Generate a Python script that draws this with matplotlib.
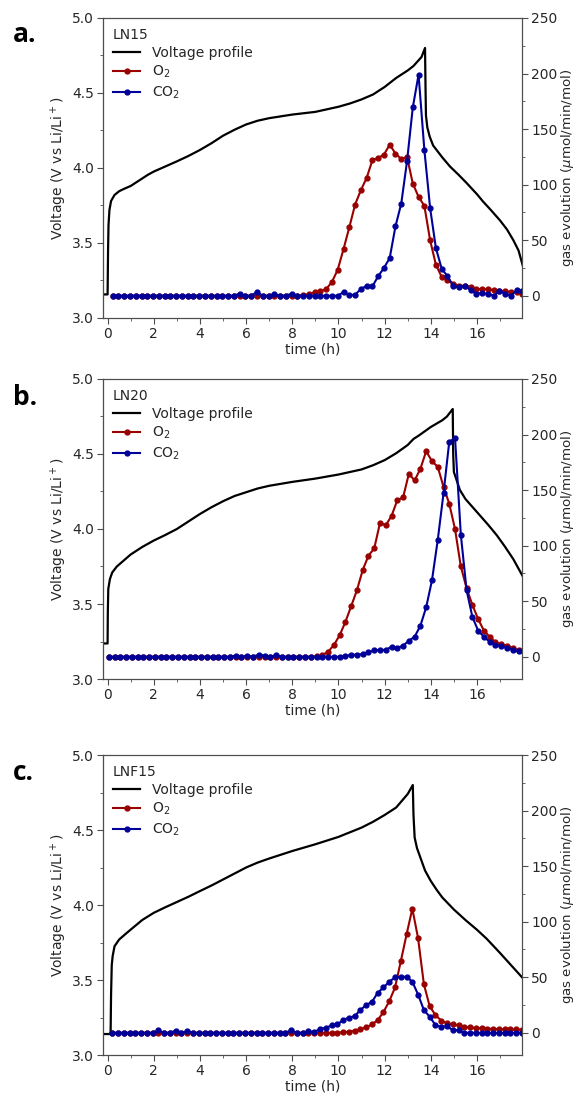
import numpy as np
import matplotlib
matplotlib.use("Agg")
import matplotlib.pyplot as plt
from matplotlib.ticker import MultipleLocator

plt.rcParams['font.family'] = ['DejaVu Sans']
plt.rcParams['font.size'] = 10

# ---- voltage profiles (time h, voltage V) ----
va_t = [-0.2, 0.0, 0.02, 0.04, 0.08, 0.15, 0.3, 0.5, 0.7, 1.0, 1.25, 1.5, 1.75, 2.0, 2.5, 3.0,
        3.5, 4.0, 4.5, 5.0, 5.5, 6.0, 6.5, 7.0, 8.0, 9.0, 10.0, 10.5, 11.0, 11.5, 12.0, 12.5,
        13.0, 13.25, 13.6, 13.75, 13.77, 13.79, 13.85, 13.95, 14.1, 14.5, 14.83, 15.2, 15.55,
        16.0, 16.27, 16.6, 17.0, 17.3, 17.57, 17.8, 18.0]
va_v = [3.157, 3.157, 3.45, 3.62, 3.72, 3.78, 3.82, 3.845, 3.86, 3.88, 3.905, 3.93, 3.955,
        3.976, 4.01, 4.044, 4.08, 4.12, 4.165, 4.215, 4.255, 4.29, 4.315, 4.332, 4.356, 4.374,
        4.408, 4.43, 4.457, 4.49, 4.54, 4.60, 4.65, 4.68, 4.74, 4.80, 4.55, 4.35, 4.27, 4.21,
        4.15, 4.07, 4.01, 3.955, 3.90, 3.825, 3.775, 3.72, 3.65, 3.59, 3.52, 3.45, 3.34]

vb_t = [-0.2, 0.0, 0.01, 0.03, 0.1, 0.2, 0.4, 0.7, 1.0, 1.5, 2.0, 2.5, 3.0, 3.5, 4.0, 4.5,
        5.0, 5.5, 6.0, 6.5, 7.0, 8.0, 9.0, 10.0, 10.5, 11.0, 11.5, 12.0, 12.5, 13.0, 13.25,
        13.5, 14.0, 14.5, 14.7, 14.95, 14.97, 15.0, 15.26, 15.5, 16.13, 16.5, 16.85, 17.2,
        17.57, 18.0]
vb_v = [3.237, 3.237, 3.45, 3.6, 3.666, 3.71, 3.75, 3.79, 3.83, 3.88, 3.923, 3.96, 4.0, 4.05,
        4.10, 4.145, 4.185, 4.22, 4.245, 4.27, 4.288, 4.314, 4.336, 4.363, 4.38, 4.397, 4.425,
        4.459, 4.505, 4.56, 4.6, 4.625, 4.68, 4.725, 4.75, 4.80, 4.50, 4.38, 4.26, 4.20, 4.09,
        4.025, 3.96, 3.885, 3.80, 3.68]

vc_t = [-0.2, 0.13, 0.15, 0.18, 0.22, 0.3, 0.5, 0.8, 1.0, 1.5, 2.0, 2.5, 3.0, 3.5, 4.0, 4.5,
        5.0, 5.5, 6.0, 6.5, 7.0, 8.0, 9.0, 10.0, 11.0, 11.5, 12.0, 12.5, 13.0, 13.22, 13.25,
        13.3, 13.4, 13.54, 13.75, 14.0, 14.26, 14.5, 15.0, 15.5, 16.0, 16.42, 17.0, 17.5, 18.0]
vc_v = [3.14, 3.14, 3.4, 3.6, 3.66, 3.725, 3.77, 3.81, 3.836, 3.90, 3.948, 3.985, 4.02, 4.055,
        4.093, 4.13, 4.17, 4.21, 4.25, 4.283, 4.31, 4.36, 4.405, 4.454, 4.516, 4.555, 4.60,
        4.65, 4.74, 4.80, 4.60, 4.45, 4.38, 4.32, 4.23, 4.16, 4.10, 4.05, 3.97, 3.90, 3.835,
        3.775, 3.68, 3.595, 3.51]

# ---- gas evolution (umol/min/mol), sampled every 0.25 h ----
ga_t = np.arange(72) * 0.25 + 0.22
o2_a = [0] * 33 + [0.5, 1.5, 3, 4, 6, 12.5, 23.6, 42, 61.6, 82, 95, 106, 122, 124, 127, 136,
                   128, 123, 125, 101, 89, 81, 50, 28, 17, 14, 11, 9, 9, 8, 6, 6, 6, 5, 4.5,
                   4, 3.6, 3.3, 2]
co2_a = [0, 0, 0, 0, 0, 0, 0, 0, 0, 0, 0, 0, 0, 0, 0, 0, 0, 0, 0, 0, 0, 0, 2, 0, 0, 3.5, 0,
         0, 1.5, 0, 0, 2, 0, 0, 0, 0, 0, 0, 0, 0, 3.3, 0.6, 1, 6, 9, 8.4, 17.6, 25, 34, 62.5,
         83, 121, 169.5, 199, 131.5, 79, 43, 24.5, 17.6, 9, 7.5, 9, 5, 2, 2.4, 1.8, 0, 4, 2,
         0, 5, 4.5]

gb_t = np.arange(73) * 0.25 + 0.05
o2_b = [0] * 36 + [0.5, 1.5, 4.5, 10.5, 19.3, 31.3, 45.5, 59.9, 78, 91, 97.6, 120.5, 118.4,
                   126.8, 141, 143.4, 164.8, 158.7, 169.3, 185, 176, 171, 153, 137.7, 114.8,
                   81.3, 61.7, 46.7, 34, 23.5, 18, 13, 11.4, 10, 8, 6, 5]
co2_b = [0] * 22 + [1, 0, 1, 0, 2, 1, 0, 1.5] + [0] * 11 + [0.3, 2, 1.8, 2.4, 4, 6, 6, 6.3, 9,
         8, 10, 14.5, 18, 28, 44.6, 68.7, 105, 147, 193.7, 196.7, 110, 60, 36, 23.5, 18,
         13.5, 11, 9.3, 8, 6.3, 5, 4.5]

gc_t = np.arange(72) * 0.25 + 0.2
o2_c = [0] * 40 + [0.5, 1, 2, 3, 5, 7.5, 11.5, 18.7, 28.4, 40.8, 64.3, 88.5, 111.7, 85, 43.8,
                   24, 16, 11, 8.5, 7.5, 6.6, 5.4, 4.8, 4.2, 4, 3.7, 3.5, 3.3, 3.2, 3, 3, 2.8]
co2_c = [0, 0, 0, 0, 0, 0, 0, 0, 2.4, 0, 0, 2, 0, 1.5, 0, 0, 0, 0, 0, 0, 0, 0, 0, 0, 0, 0,
         0, 0, 0, 0, 0, 2.4, 0, 0, 1.5, 0.5, 3.6, 4.5, 6.6, 7.5, 11.5, 13.6, 15, 20.5, 25,
         27.8, 36, 40.8, 46, 49.8, 50.4, 50.4, 46, 34.4, 20.5, 14.5, 7, 5.4, 6, 2.4, 2.4] + [0] * 11

panels = [
    ("a.", "LN15", va_t, va_v, ga_t, o2_a, co2_a),
    ("b.", "LN20", vb_t, vb_v, gb_t, o2_b, co2_b),
    ("c.", "LNF15", vc_t, vc_v, gc_t, o2_c, co2_c),
]

fig = plt.figure(figsize=(5.74, 10.95), dpi=100)
bottoms = [0.7096, 0.3799, 0.0365]
tops_px = [18, 381, 756]
txt = '#262626'

for (tag, name, vt, vv, gt, o2, co2), b, tp in zip(panels, bottoms, tops_px):
    ax = fig.add_axes([0.1794, b, 0.730, 0.274])
    ax2 = ax.twinx()
    l1, = ax.plot(vt, vv, color='black', lw=1.6, label='Voltage profile')
    l2, = ax2.plot(gt, o2, color='#990000', lw=1.5, marker='o', ms=3.5, label='O$_2$')
    l3, = ax2.plot(gt, co2, color='#000099', lw=1.5, marker='o', ms=3.5, label='CO$_2$')
    ax.set_xlim(-0.2, 17.95)
    ax.set_ylim(3.0, 5.0)
    ax2.set_ylim(-20, 250)
    ax.xaxis.set_major_locator(MultipleLocator(2))
    ax.xaxis.set_minor_locator(MultipleLocator(1))
    ax.yaxis.set_major_locator(MultipleLocator(0.5))
    ax.yaxis.set_minor_locator(MultipleLocator(0.25))
    ax2.yaxis.set_major_locator(MultipleLocator(50))
    ax2.yaxis.set_minor_locator(MultipleLocator(25))
    ax.yaxis.set_major_formatter(matplotlib.ticker.FormatStrFormatter('%.1f'))
    for a in (ax, ax2):
        a.tick_params(which='both', direction='out', colors='0.3', labelcolor=txt,
                      labelsize=10)
        a.tick_params(which='major', length=4, pad=2.5)
        a.tick_params(which='minor', length=2.5)
        for s in a.spines.values():
            s.set_color('0.3')
    ax.spines['left'].set_color('black')
    ax.set_xlabel('time (h)', color=txt, labelpad=1)
    ax.set_ylabel('Voltage (V vs Li/Li$^+$)', color=txt, labelpad=2)
    ax2.set_ylabel('gas evolution ($\\mu$mol/min/mol)', color=txt, labelpad=1,
                   fontsize=9.6)
    leg = ax2.legend([l1, l2, l3], [l1.get_label(), l2.get_label(), l3.get_label()],
                     title=name, loc='upper left', frameon=False, fontsize=10,
                     title_fontsize=10, alignment='left', handlelength=2.0,
                     borderaxespad=0.3, labelspacing=0.3)
    for t in leg.get_texts():
        t.set_color(txt)
    leg.get_title().set_color(txt)
    fig.text(13 / 574, 1 - (tp + 24) / 1095, tag, fontsize=19, fontweight='bold',
             family=['Open Sans', 'DejaVu Sans'], va='baseline', ha='left')

fig.savefig('out.png', dpi=100)
